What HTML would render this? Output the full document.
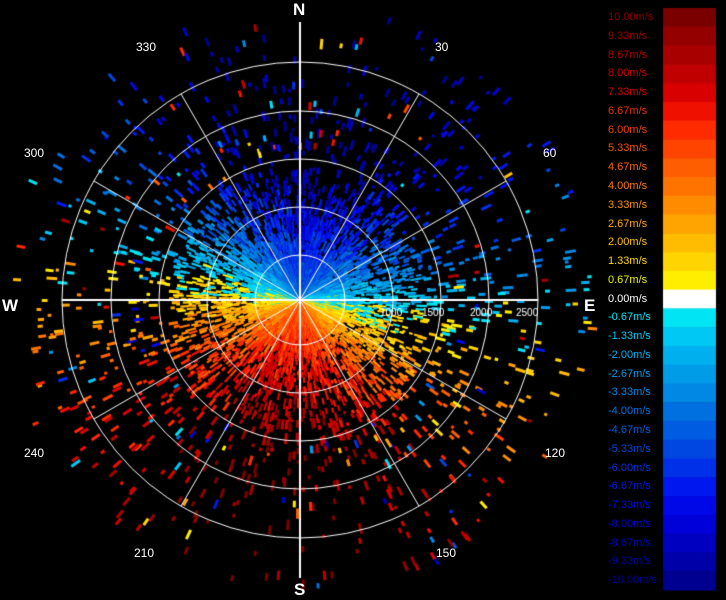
<!DOCTYPE html>
<html><head><meta charset="utf-8"><style>
html,body{margin:0;padding:0;background:#000;width:726px;height:600px;overflow:hidden}
#c{position:absolute;left:0;top:0}
.t{position:absolute;font-family:"Liberation Sans",sans-serif;color:#fff}
.lb{position:absolute;left:608px;font-family:"Liberation Sans",sans-serif;font-size:11px}
</style></head><body>
<canvas id="c" width="726" height="600"></canvas>
<div class="t" style="left:293px;top:0px;font-size:17px;font-weight:bold">N</div>
<div class="t" style="left:294px;top:580px;font-size:17px;font-weight:bold">S</div>
<div class="t" style="left:2px;top:296px;font-size:17px;font-weight:bold">W</div>
<div class="t" style="left:584px;top:296px;font-size:17px;font-weight:bold">E</div>
<div class="t" style="left:136px;top:40px;font-size:12px">330</div>
<div class="t" style="left:435px;top:40px;font-size:12px">30</div>
<div class="t" style="left:24px;top:146px;font-size:12px">300</div>
<div class="t" style="left:543px;top:146px;font-size:12px">60</div>
<div class="t" style="left:24px;top:446px;font-size:12px">240</div>
<div class="t" style="left:545px;top:446px;font-size:12px">120</div>
<div class="t" style="left:134px;top:546px;font-size:12px">210</div>
<div class="t" style="left:436px;top:546px;font-size:12px">150</div>
<div id="lbs"></div>
<script>
var cv=document.getElementById('c'),g=cv.getContext('2d');
var cols=["#7a0000","#940000","#a80000","#c00000","#d80000","#f01000","#ff2a00","#ff4400","#ff5e00","#ff7400","#ff8c00","#ffa400","#ffbc00","#ffd400","#ffee00","#ffffff","#00e4f4","#00c8f4","#00b0ee","#009ce8","#0088e4","#0070e0","#005ce0","#0046e0","#0030e8","#0018f0","#0008e8","#0000d8","#0000c0","#0000a8","#000090"];
var labs=["10.00","9.33","8.67","8.00","7.33","6.67","6.00","5.33","4.67","4.00","3.33","2.67","2.00","1.33","0.67","0.00","-0.67","-1.33","-2.00","-2.67","-3.33","-4.00","-4.67","-5.33","-6.00","-6.67","-7.33","-8.00","-8.67","-9.33","-10.00"];
var tcol=function(i){if(i<15){return ["#8a0000","#9a0000","#b00000","#c80000","#d80000","#e83000","#f04000","#f05000","#ff6000","#ff7800","#ff9000","#ffa800","#ffc000","#ffd800","#f0f000"][i]}if(i==15)return"#fff";return cols[i]};
var h="";var bh=582/31;
for(var i=0;i<31;i++){g.fillStyle=cols[i];g.fillRect(663,8+i*bh,53,bh+0.5);
h+='<div class="lb" style="top:'+(11+i*bh)+'px;color:'+tcol(i)+'">'+labs[i]+'m/s</div>';}
document.getElementById('lbs').innerHTML=h;
var s=12345;function r(){s=(s*16807)%2147483647;return s/2147483647}
var cx=300,cy=300;
function col(v){var idx=Math.round(15-v/0.667);if(idx<0)idx=0;if(idx>30)idx=30;if(idx==15)idx=v>0?14:16;return cols[idx]}
g.lineCap="butt";
for(var a=0;a<720;a++){
 var th=(a/2+r()*0.5)*Math.PI/180;
 var rr=4;
 var base=-Math.cos(th-0.17)*8.5+(r()-0.5)*1.5;
 while(rr<290){
  var len=3+r()*8;
  var p=Math.exp(-rr/85)*0.9+0.035;
  if(r()<p){
   var v=base*(0.55+Math.min(rr,160)/250)+(r()-0.5)*2.5;
   if(rr>140&&r()<0.2)v=(r()-0.5)*18;
   g.strokeStyle=col(v);g.lineWidth=rr<120?2.2:3;
   var sn=Math.sin(th),cs=Math.cos(th);
   g.beginPath();g.moveTo(cx+sn*rr,cy-cs*rr);g.lineTo(cx+sn*(rr+len),cy-cs*(rr+len));g.stroke();
  }
  rr+=len+r()*(rr<120?4:16);
 }
}
g.strokeStyle="#fff";g.lineWidth=1;
[45,93,141,189,238].forEach(function(R){g.beginPath();g.arc(cx,cy,R,0,Math.PI*2);g.stroke()});
for(var a2=0;a2<360;a2+=30){var t=a2*Math.PI/180;g.beginPath();g.moveTo(cx,cy);g.lineTo(cx+Math.sin(t)*238,cy-Math.cos(t)*238);g.stroke()}
g.lineWidth=2;g.beginPath();g.moveTo(62,cy);g.lineTo(538,cy);g.moveTo(cx,22);g.lineTo(cx,578);g.stroke();
g.fillStyle="#fff";g.font="10px 'Liberation Sans'";
g.fillText("1000",380,316);g.fillText("1500",422,316);g.fillText("2000",470,316);g.fillText("2500",516,316);
</script>
</body></html>
